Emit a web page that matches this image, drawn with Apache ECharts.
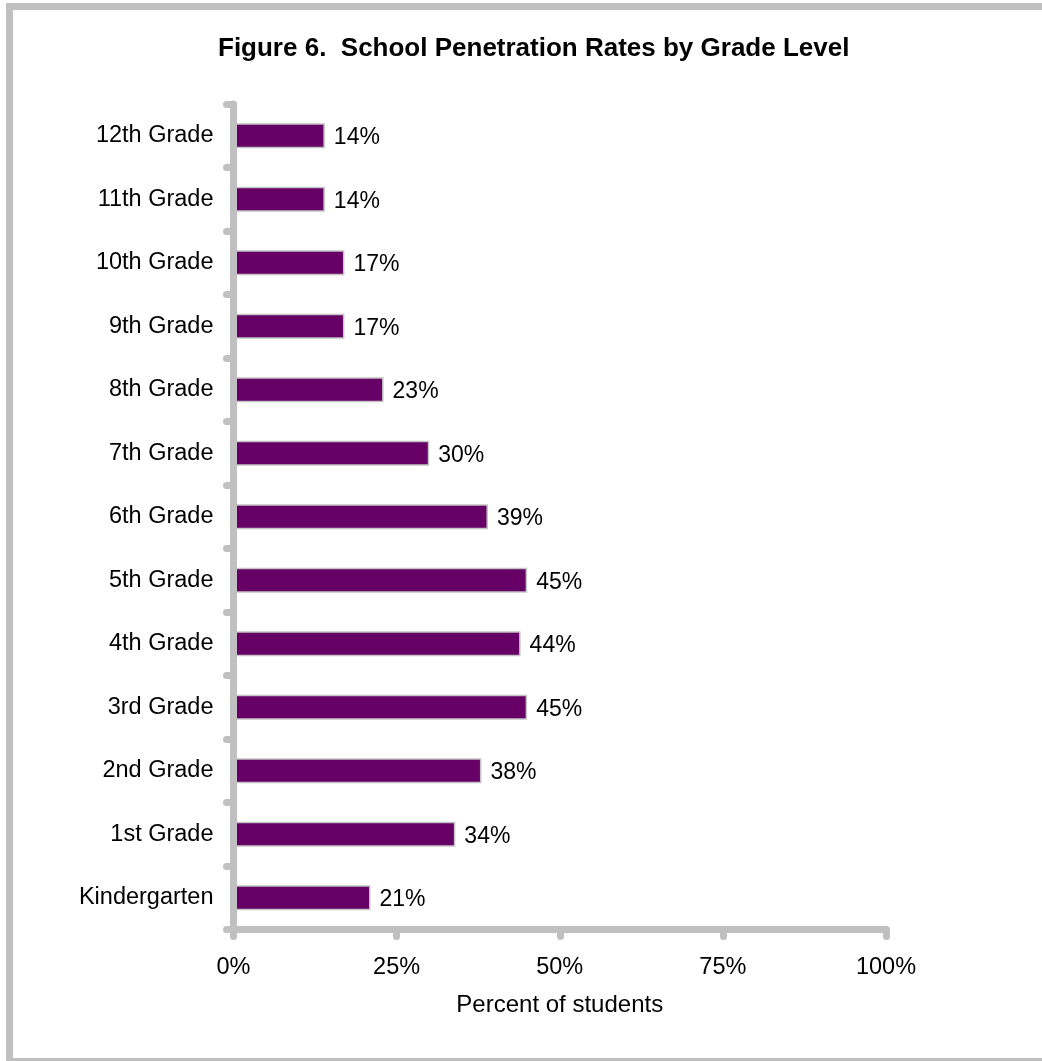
<!DOCTYPE html>
<html>
<head>
<meta charset="utf-8">
<title>School Penetration Rates by Grade Level</title>
<script src="https://cdn.jsdelivr.net/npm/echarts@6/dist/echarts.min.js"></script>
<style>
  html, body { margin: 0; padding: 0; background: #ffffff; }
  #chart { width: 1042px; height: 1061px; }
</style>
</head>
<body>
<div id="chart"></div>
<script>
// Grade levels, bottom to top
const grades = [
  'Kindergarten', '1st Grade', '2nd Grade', '3rd Grade', '4th Grade', '5th Grade',
  '6th Grade', '7th Grade', '8th Grade', '9th Grade', '10th Grade', '11th Grade', '12th Grade'
];
// Share of students (%) for each grade level
const penetration = [21, 34, 38, 45, 44, 45, 39, 30, 23, 17, 17, 14, 14];
// Percent axis ticks
const percentTicks = [0, 25, 50, 75, 100];

const FONT = '"Liberation Sans", Arial, sans-serif';
const AXIS_GRAY = '#c0c0c0';

const chart = echarts.init(document.getElementById('chart'), null, { renderer: 'canvas' });

chart.setOption({
  animation: false,
  backgroundColor: '#ffffff',
  textStyle: { fontFamily: FONT, color: '#000000' },
  title: {
    text: 'Figure 6.  School Penetration Rates by Grade Level',
    left: 218,
    top: 36,
    padding: 0,
    textStyle: { fontFamily: FONT, fontSize: 26, fontWeight: 'bold', color: '#000000' }
  },
  graphic: [
    // frame: thick top and left edges, thin bottom edge
    { type: 'rect', shape: { x: 6, y: 3, width: 1036, height: 7 }, style: { fill: AXIS_GRAY }, silent: true },
    { type: 'rect', shape: { x: 6, y: 3, width: 7, height: 1058 }, style: { fill: AXIS_GRAY }, silent: true },
    { type: 'rect', shape: { x: 6, y: 1058, width: 1036, height: 3 }, style: { fill: AXIS_GRAY }, silent: true }
  ],
  grid: {
    left: 233.5,
    right: 1042 - 886,
    top: 104,
    bottom: 1061 - 929.5,
    containLabel: false
  },
  xAxis: {
    type: 'value',
    min: percentTicks[0],
    max: percentTicks[percentTicks.length - 1],
    interval: percentTicks[1] - percentTicks[0],
    z: 5,
    name: 'Percent of students',
    nameLocation: 'middle',
    nameGap: 64,
    nameTextStyle: { fontFamily: FONT, fontSize: 24, color: '#000000' },
    axisLine: { show: true, lineStyle: { color: AXIS_GRAY, width: 7, cap: 'round' } },
    axisTick: { show: true, length: 7, lineStyle: { color: AXIS_GRAY, width: 7, cap: 'round' } },
    axisLabel: {
      margin: 26,
      fontFamily: FONT,
      fontSize: 23.5,
      color: '#000000',
      formatter: v => v + '%'
    },
    splitLine: { show: false }
  },
  yAxis: {
    type: 'category',
    data: grades,
    z: 5,
    axisLine: { show: true, lineStyle: { color: AXIS_GRAY, width: 7, cap: 'round' } },
    axisTick: { show: true, length: 7, lineStyle: { color: AXIS_GRAY, width: 7, cap: 'round' } },
    axisLabel: { margin: 20, fontFamily: FONT, fontSize: 23.5, color: '#000000', lineHeight: 23.5, padding: [5, 0, 0, 0] },
    splitLine: { show: false }
  },
  series: [{
    type: 'bar',
    data: penetration,
    barWidth: 25,
    z: 2,
    itemStyle: { color: '#660066', borderColor: '#c4c4c4', borderWidth: 1.5 },
    label: {
      show: true,
      position: 'right',
      distance: 9,
      offset: [0, 2],
      fontFamily: FONT,
      fontSize: 23,
      color: '#000000',
      formatter: p => p.value + '%'
    }
  }]
});
</script>
</body>
</html>
